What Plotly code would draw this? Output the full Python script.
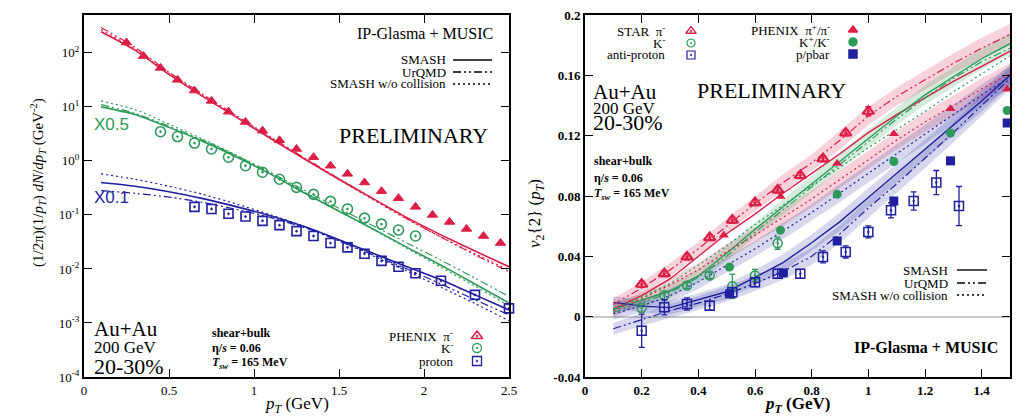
import plotly.graph_objects as go

W, H = 1026, 418

# ---------------- Left panel: pT spectra (values as plotted, incl. x0.5 / x0.1 scaling) ----------------
pt_model_sp = [0.1, 0.3, 0.5, 0.7, 0.9, 1.1, 1.3, 1.5, 1.7, 1.9, 2.1, 2.3, 2.5]
pi_smash = [245, 112, 39.8, 15.5, 6.31, 2.57, 1.07, 0.457, 0.200, 0.0891, 0.0427, 0.0214, 0.0110]
pi_urqmd = [295, 126, 43.7, 17.0, 6.76, 2.75, 1.12, 0.468, 0.200, 0.0851, 0.0389, 0.0182, 0.0089]
pi_nocoll = [269, 117, 41.7, 16.2, 6.46, 2.63, 1.07, 0.447, 0.191, 0.0832, 0.0389, 0.0191, 0.0095]
k_smash = [10.0, 7.24, 4.17, 2.29, 1.17, 0.562, 0.251, 0.117, 0.055, 0.0251, 0.0117, 0.00525, 0.00234]
k_urqmd = [11.0, 7.59, 4.37, 2.40, 1.23, 0.603, 0.282, 0.132, 0.0631, 0.0302, 0.0145, 0.00676, 0.00309]
k_nocoll = [12.9, 8.91, 4.79, 2.51, 1.26, 0.589, 0.263, 0.117, 0.0537, 0.0240, 0.0107, 0.00479, 0.00209]
p_smash = [0.398, 0.339, 0.269, 0.200, 0.141, 0.0955, 0.0603, 0.0347, 0.0195, 0.0110, 0.00631, 0.00331, 0.00174]
p_urqmd = [0.282, 0.251, 0.214, 0.170, 0.126, 0.0891, 0.0575, 0.0331, 0.0182, 0.0100, 0.00525, 0.00269, 0.00141]
p_nocoll = [0.575, 0.457, 0.339, 0.240, 0.158, 0.100, 0.0603, 0.0331, 0.0174, 0.00912, 0.00457, 0.00229, 0.00110]

pt_pi_data = [0.25, 0.35, 0.45, 0.55, 0.65, 0.75, 0.85, 0.95, 1.05, 1.15, 1.25, 1.35, 1.45,
              1.55, 1.65, 1.75, 1.85, 1.95, 2.05, 2.15, 2.25, 2.35, 2.45]
pi_data = [155, 87, 52.5, 31.6, 20.0, 12.9, 8.13, 5.25, 3.63, 2.40, 1.66, 1.17, 0.813,
           0.575, 0.398, 0.275, 0.204, 0.141, 0.100, 0.0741, 0.055, 0.0407, 0.0302]
pt_k_data = [0.45, 0.55, 0.65, 0.75, 0.85, 0.95, 1.05, 1.15, 1.25, 1.35, 1.45, 1.55, 1.65, 1.75, 1.85, 1.95]
k_data = [3.47, 2.82, 2.14, 1.66, 1.17, 0.813, 0.617, 0.457, 0.324, 0.240, 0.178, 0.129,
          0.0871, 0.0676, 0.0525, 0.0407]
pt_p_data = [0.65, 0.75, 0.85, 0.95, 1.05, 1.15, 1.25, 1.35, 1.45, 1.55, 1.65, 1.75, 1.85, 1.95, 2.1, 2.3, 2.5]
p_data = [0.141, 0.129, 0.105, 0.0933, 0.0776, 0.0646, 0.0501, 0.0407, 0.0302, 0.0251, 0.0191,
          0.0141, 0.0110, 0.00832, 0.00603, 0.00331, 0.00186]

sp_ytick_vals = [1e-4, 1e-3, 1e-2, 1e-1, 1, 10, 100]
sp_ytick_text = ["10<sup>-4</sup>", "10<sup>-3</sup>", "10<sup>-2</sup>", "10<sup>-1</sup>",
                 "10<sup>0</sup>", "10<sup>1</sup>", "10<sup>2</sup>"]
sp_xtick_vals = [0, 0.5, 1, 1.5, 2, 2.5]
sp_xtick_text = ["0", "0.5", "1", "1.5", "2", "2.5"]

# ---------------- Right panel: v2{2}(pT) ----------------
pt_model_v2 = [0.1, 0.2, 0.3, 0.4, 0.5, 0.6, 0.7, 0.8, 0.9, 1.0, 1.1, 1.2, 1.3, 1.4, 1.5]
v2_pi_smash = [0.005, 0.014, 0.025, 0.040, 0.055, 0.068, 0.082, 0.095, 0.108, 0.122, 0.134, 0.145, 0.156, 0.166, 0.176]
v2_pi_urqmd = [0.008, 0.019, 0.031, 0.045, 0.060, 0.075, 0.089, 0.102, 0.117, 0.133, 0.146, 0.157, 0.168, 0.178, 0.187]
v2_pi_nocoll = [0.004, 0.012, 0.021, 0.031, 0.043, 0.054, 0.066, 0.078, 0.091, 0.104, 0.117, 0.129, 0.140, 0.151, 0.161]
v2_k_smash = [0.005, 0.011, 0.017, 0.027, 0.042, 0.058, 0.073, 0.088, 0.103, 0.118, 0.133, 0.147, 0.159, 0.171, 0.181]
v2_k_urqmd = [0.003, 0.009, 0.016, 0.026, 0.040, 0.056, 0.071, 0.086, 0.101, 0.116, 0.131, 0.145, 0.158, 0.169, 0.178]
v2_k_nocoll = [0.005, 0.013, 0.022, 0.034, 0.047, 0.061, 0.074, 0.087, 0.099, 0.112, 0.124, 0.136, 0.149, 0.161, 0.173]
v2_p_smash = [0.0095, 0.007, 0.006, 0.011, 0.0165, 0.026, 0.036, 0.049, 0.063, 0.079, 0.095, 0.111, 0.127, 0.143, 0.160]
v2_p_urqmd = [-0.008, -0.002, 0.004, 0.009, 0.015, 0.022, 0.030, 0.040, 0.055, 0.072, 0.088, 0.105, 0.122, 0.140, 0.158]
v2_p_nocoll = [0.002, 0.007, 0.014, 0.023, 0.034, 0.045, 0.057, 0.069, 0.082, 0.095, 0.108, 0.121, 0.134, 0.147, 0.159]
band_halfwidth = [0.004, 0.004, 0.0045, 0.0045, 0.005, 0.005, 0.0055, 0.0055, 0.006, 0.006, 0.006, 0.0065, 0.0065, 0.007, 0.007]

pt_star = [0.2, 0.28, 0.36, 0.44, 0.52, 0.6, 0.68, 0.76, 0.84, 0.92, 1.0, 1.08, 1.16, 1.24, 1.32]
star_pi = [0.0215, 0.0285, 0.0396, 0.0524, 0.064, 0.0756, 0.084, 0.0936, 0.1047, 0.1218, 0.1362]
star_pi_err = [0.002, 0.002, 0.002, 0.002, 0.002, 0.002, 0.002, 0.002, 0.002, 0.002, 0.003]
star_k = [0.0058, 0.014, 0.0207, 0.0273, 0.0202, 0.0273, 0.0487]
star_k_err = [0.003, 0.003, 0.002, 0.002, 0.008, 0.004, 0.004]
star_pbar = [-0.0093, 0.0062, 0.0084, 0.0073, 0.0162, 0.0229, 0.0284, 0.0284, 0.0396, 0.0429,
             0.0562, 0.0705, 0.0767, 0.0889, 0.0733]
star_pbar_err = [0.011, 0.005, 0.004, 0.003, 0.003, 0.003, 0.003, 0.003, 0.004, 0.004,
                 0.004, 0.005, 0.006, 0.008, 0.013]
pt_phenix_pi = [0.49, 0.69, 0.89, 1.09, 1.29, 1.49]
phenix_pi = [0.054, 0.0796, 0.1015, 0.1213, 0.1378, 0.1507]
pt_phenix_k = [0.51, 0.69, 0.89, 1.09, 1.29, 1.49]
phenix_k = [0.0329, 0.0573, 0.0811, 0.1029, 0.1218, 0.1367]
pt_phenix_p = [0.51, 0.70, 0.89, 1.09, 1.29, 1.49]
phenix_p = [0.0151, 0.029, 0.0502, 0.0767, 0.1033, 0.1284]

v2_ytick_vals = [-0.04, 0, 0.04, 0.08, 0.12, 0.16, 0.2]
v2_ytick_text = ["-0.04", "0", "0.04", "0.08", "0.12", "0.16", "0.2"]
v2_xtick_vals = [0, 0.2, 0.4, 0.6, 0.8, 1.0, 1.2, 1.4]
v2_xtick_text = ["0", "0.2", "0.4", "0.6", "0.8", "1", "1.2", "1.4"]

# ---------------- styles ----------------
RED = "#dc1e46"
GREEN = "#2e9a5a"
BLUE = "#1f1fa0"
BAND = {RED: "rgba(220,30,70,0.20)", GREEN: "rgba(46,154,90,0.20)", BLUE: "rgba(31,31,160,0.18)"}
SERIF = "Liberation Serif"
SANS = "Liberation Sans"
DASHDOT = "8px,3px,2px,3px,2px,3px"
DOT = "2px,3px"


def px(x):
    return x / W


def py(y):
    return 1 - y / H


fig = go.Figure()

# ---- left panel model curves ----
for vals, color in [(pi_smash, RED), (k_smash, GREEN), (p_smash, BLUE)]:
    fig.add_trace(go.Scatter(x=pt_model_sp, y=vals, mode="lines", xaxis="x", yaxis="y",
                             line=dict(color=color, width=1.6, shape="spline", smoothing=0.6)))
for vals, color in [(pi_urqmd, RED), (k_urqmd, GREEN), (p_urqmd, BLUE)]:
    fig.add_trace(go.Scatter(x=pt_model_sp, y=vals, mode="lines", xaxis="x", yaxis="y",
                             line=dict(color=color, width=1.2, dash=DASHDOT, shape="spline", smoothing=0.6)))
for vals, color in [(pi_nocoll, RED), (k_nocoll, GREEN), (p_nocoll, BLUE)]:
    fig.add_trace(go.Scatter(x=pt_model_sp, y=vals, mode="lines", xaxis="x", yaxis="y",
                             line=dict(color=color, width=1.2, dash=DOT, shape="spline", smoothing=0.6)))

# ---- left panel data ----
fig.add_trace(go.Scatter(x=pt_pi_data, y=pi_data, mode="markers", xaxis="x", yaxis="y", cliponaxis=False,
                         marker=dict(symbol="triangle-up", size=9, color=RED,
                                     line=dict(color=RED, width=1))))
fig.add_trace(go.Scatter(x=pt_k_data, y=k_data, mode="markers", xaxis="x", yaxis="y", cliponaxis=False,
                         marker=dict(symbol="circle-open-dot", size=10, color=GREEN,
                                     line=dict(color=GREEN, width=1.6))))
fig.add_trace(go.Scatter(x=pt_p_data, y=p_data, mode="markers", xaxis="x", yaxis="y", cliponaxis=False,
                         marker=dict(symbol="square-open-dot", size=9, color=BLUE,
                                     line=dict(color=BLUE, width=1.6))))

# ---- right panel bands ----
band_lines = [(v2_pi_urqmd, RED), (v2_pi_nocoll, RED), (v2_k_smash, GREEN),
              (v2_p_nocoll, BLUE), (v2_p_smash, BLUE), (v2_p_urqmd, BLUE)]
for vals, color in band_lines:
    upper = [v + w for v, w in zip(vals, band_halfwidth)]
    lower = [v - w for v, w in zip(vals, band_halfwidth)]
    fig.add_trace(go.Scatter(x=pt_model_v2 + pt_model_v2[::-1], y=upper + lower[::-1],
                             mode="lines", fill="toself", fillcolor=BAND[color],
                             line=dict(width=0), xaxis="x2", yaxis="y2", hoverinfo="skip"))

# ---- right panel model curves ----
for vals, color in [(v2_pi_smash, RED), (v2_k_smash, GREEN), (v2_p_smash, BLUE)]:
    fig.add_trace(go.Scatter(x=pt_model_v2, y=vals, mode="lines", xaxis="x2", yaxis="y2",
                             line=dict(color=color, width=1.4)))
for vals, color in [(v2_pi_urqmd, RED), (v2_k_urqmd, GREEN), (v2_p_urqmd, BLUE)]:
    fig.add_trace(go.Scatter(x=pt_model_v2, y=vals, mode="lines", xaxis="x2", yaxis="y2",
                             line=dict(color=color, width=1.2, dash=DASHDOT)))
for vals, color in [(v2_pi_nocoll, RED), (v2_k_nocoll, GREEN), (v2_p_nocoll, BLUE)]:
    fig.add_trace(go.Scatter(x=pt_model_v2, y=vals, mode="lines", xaxis="x2", yaxis="y2",
                             line=dict(color=color, width=1.2, dash=DOT)))

# ---- right panel data ----
def err(arr, color):
    return dict(type="data", array=arr, visible=True, color=color, thickness=1.3, width=3)


fig.add_trace(go.Scatter(x=pt_star[:len(star_pi)], y=star_pi, mode="markers", xaxis="x2", yaxis="y2",
                         cliponaxis=False, error_y=err(star_pi_err, RED),
                         marker=dict(symbol="triangle-up-open-dot", size=10, color=RED,
                                     line=dict(color=RED, width=2.2))))
fig.add_trace(go.Scatter(x=pt_star[:len(star_k)], y=star_k, mode="markers", xaxis="x2", yaxis="y2",
                         cliponaxis=False, error_y=err(star_k_err, GREEN),
                         marker=dict(symbol="circle-open-dot", size=9, color=GREEN,
                                     line=dict(color=GREEN, width=1.5))))
fig.add_trace(go.Scatter(x=pt_star, y=star_pbar, mode="markers", xaxis="x2", yaxis="y2",
                         cliponaxis=False, error_y=err(star_pbar_err, BLUE),
                         marker=dict(symbol="square-open-dot", size=9, color=BLUE,
                                     line=dict(color=BLUE, width=1.5))))
fig.add_trace(go.Scatter(x=pt_phenix_pi, y=phenix_pi, mode="markers", xaxis="x2", yaxis="y2",
                         cliponaxis=False, marker=dict(symbol="triangle-up", size=9, color=RED)))
fig.add_trace(go.Scatter(x=pt_phenix_k, y=phenix_k, mode="markers", xaxis="x2", yaxis="y2",
                         cliponaxis=False, marker=dict(symbol="circle", size=9, color=GREEN)))
fig.add_trace(go.Scatter(x=pt_phenix_p, y=phenix_p, mode="markers", xaxis="x2", yaxis="y2",
                         cliponaxis=False, marker=dict(symbol="square", size=9, color=BLUE)))

# ---------------- legend keys (overlay axis spanning the figure) ----------------
def key_line(x0, x1, y, dash, width=1.4):
    fig.add_trace(go.Scatter(x=[px(x0), px(x1)], y=[py(y), py(y)], mode="lines", xaxis="x3", yaxis="y3",
                             line=dict(color="black", width=width, dash=dash), hoverinfo="skip"))


def key_marker(x, y, symbol, color, size=9, lw=1.5):
    fig.add_trace(go.Scatter(x=[px(x)], y=[py(y)], mode="markers", xaxis="x3", yaxis="y3", cliponaxis=False,
                             marker=dict(symbol=symbol, size=size, color=color, line=dict(color=color, width=lw)),
                             hoverinfo="skip"))


for (y, dash) in [(60, "solid"), (72, DASHDOT), (84, DOT)]:
    key_line(453, 492, y, dash)
for (y, dash) in [(270, "solid"), (283, DASHDOT), (295, DOT)]:
    key_line(957, 987, y, dash)

key_marker(477, 336, "triangle-up-open-dot", RED, 10, 1.5)
key_marker(477, 348, "circle-open-dot", GREEN, 9, 1.3)
key_marker(477, 361, "square-open-dot", BLUE, 9, 1.3)
key_marker(691, 31, "triangle-up-open-dot", RED, 9, 1.3)
key_marker(691, 43, "circle-open-dot", GREEN, 8, 1.2)
key_marker(691, 55, "square-open-dot", BLUE, 8, 1.2)
key_marker(853, 30, "triangle-up", RED, 8)
key_marker(853, 42, "circle", GREEN, 8)
key_marker(853, 54, "square", BLUE, 8)

# ---------------- text ----------------
ann = []


def text(x, y, s, size=13, color="black", anchor="left", font=SERIF, weight="normal", angle=0):
    ann.append(dict(x=px(x), y=py(y), xref="paper", yref="paper", text=s, showarrow=False,
                    xanchor=anchor, yanchor="middle", textangle=angle,
                    font=dict(family=font, size=size, color=color, weight=weight)))


# left panel
text(495, 33, "IP-Glasma + MUSIC", 16, anchor="right")
text(448, 60, "SMASH", 13, anchor="right")
text(448, 72, "UrQMD", 13, anchor="right")
text(448, 84, "SMASH w/o collision", 13, anchor="right")
text(413, 136, "PRELIMINARY", 22, anchor="center")
text(92, 124, "X0.5", 17, GREEN, font=SANS)
text(92, 198, "X0.1", 17, BLUE, font=SANS)
text(92, 329, "Au+Au", 21)
text(92, 347, "200 GeV", 17)
text(92, 366, "20-30%", 22)
text(210, 333, "shear+bulk", 12, weight="bold")
text(210, 348, "η/<i>s</i> = 0.06", 12, weight="bold")
text(210, 363, "<i>T<sub>sw</sub></i> = 165 MeV", 12, weight="bold")
text(455, 336, "PHENIX  π<sup>-</sup>", 13, anchor="right")
text(455, 348, "K<sup>-</sup>", 13, anchor="right")
text(455, 361, "proton", 13, anchor="right")
text(38, 183, "(1/2π)(1/<i>p<sub>T</sub></i>) <i>dN</i>/<i>dp<sub>T</sub></i> (GeV<sup>-2</sup>)", 15, angle=-90,
     anchor="center")
text(297, 405, "<i>p<sub>T</sub></i> (GeV)", 17, anchor="center")

# right panel
text(667, 31, "STAR  π<sup>-</sup>", 13, anchor="right")
text(667, 43, "K<sup>-</sup>", 13, anchor="right")
text(667, 55, "anti-proton", 13, anchor="right")
text(832, 30, "PHENIX  π<sup>+</sup>/π<sup>-</sup>", 13, anchor="right")
text(832, 42, "K<sup>+</sup>/K<sup>-</sup>", 13, anchor="right")
text(832, 54, "p/pbar", 13, anchor="right")
text(591, 92, "Au+Au", 21)
text(591, 108, "200 GeV", 17)
text(591, 123, "20-30%", 22)
text(771, 91, "PRELIMINARY", 22, anchor="center")
text(592, 161, "shear+bulk", 12, weight="bold")
text(592, 178, "η/<i>s</i> = 0.06", 12, weight="bold")
text(592, 194, "<i>T<sub>sw</sub></i> = 165 MeV", 12, weight="bold")
text(950, 270, "SMASH", 13, anchor="right")
text(950, 283, "UrQMD", 13, anchor="right")
text(950, 295, "SMASH w/o collision", 13, anchor="right")
text(1000, 347, "IP-Glasma + MUSIC", 16, anchor="right", weight="bold")
text(536, 214, "<i>v</i><sub>2</sub>{2} (<i>p<sub>T</sub></i>)", 17, angle=-90, anchor="center")
text(797, 405, "<i>p<sub>T</sub></i> (GeV)", 17, anchor="center", weight="bold")

# ---------------- axes ----------------
ydom = [py(377), py(15)]
common = dict(showline=True, linecolor="black", linewidth=2, mirror="ticks", ticks="inside",
              ticklen=8, tickwidth=1.2, tickcolor="black", showgrid=False, zeroline=False,
              automargin=False)

fig.update_layout(
    width=W, height=H, margin=dict(l=0, r=0, t=0, b=0, autoexpand=False), showlegend=False,
    paper_bgcolor="white", plot_bgcolor="rgba(0,0,0,0)",
    font=dict(family=SERIF, color="black"),
    xaxis=dict(domain=[px(84), px(509)], range=[0, 2.5], tickvals=sp_xtick_vals, ticktext=sp_xtick_text,
               tickfont=dict(family=SERIF, size=13), anchor="y", **common),
    yaxis=dict(domain=ydom, type="log", range=[-4, 2.7], tickvals=sp_ytick_vals, ticktext=sp_ytick_text,
               tickfont=dict(family=SERIF, size=13), anchor="x", **common),
    xaxis2=dict(domain=[px(585), px(1010)], range=[0, 1.5], tickvals=v2_xtick_vals, ticktext=v2_xtick_text,
                tickfont=dict(family=SERIF, size=13, weight="bold"), anchor="y2", **common),
    yaxis2=dict(domain=ydom, range=[-0.04, 0.2], tickvals=v2_ytick_vals, ticktext=v2_ytick_text,
                tickfont=dict(family=SERIF, size=13, weight="bold"), anchor="x2", **common),
    xaxis3=dict(domain=[0, 1], range=[0, 1], visible=False, fixedrange=True, anchor="y3", automargin=False),
    yaxis3=dict(domain=[0, 1], range=[0, 1], visible=False, fixedrange=True, anchor="x3", automargin=False),
    annotations=ann,
)
fig.update_layout(yaxis2=dict(zeroline=True, zerolinecolor="#c8c8c8", zerolinewidth=2))

fig.write_html("out.html", config={"displayModeBar": False},
               post_script="document.body.style.margin='0';document.body.style.overflow='hidden';")
